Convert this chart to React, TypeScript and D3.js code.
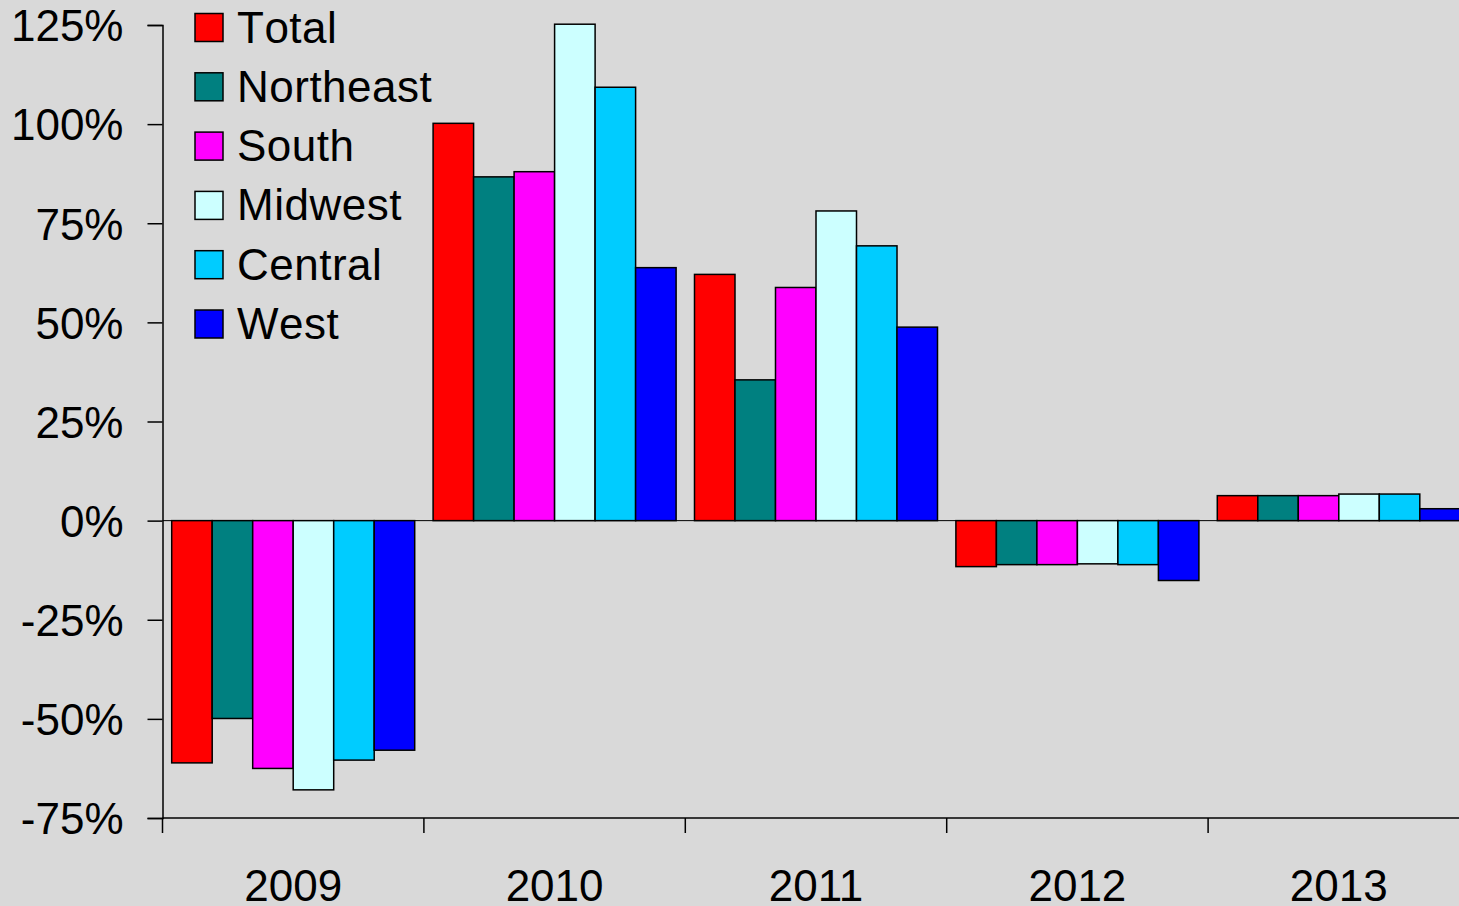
import * as React from "react";
import * as d3 from "d3";

const years: string[] = ["2009", "2010", "2011", "2012", "2013"];
const seriesNames: string[] = ["Total", "Northeast", "South", "Midwest", "Central", "West"];
const seriesColors: string[] = ["#ff0000", "#008080", "#ff00ff", "#ccffff", "#00ccff", "#0000ff"];

const total: number[] = [-61.1, 100.2, 62.1, -11.6, 6.3];
const northeast: number[] = [-49.9, 86.7, 35.5, -11.1, 6.3];
const south: number[] = [-62.5, 88.0, 58.8, -11.1, 6.3];
const midwest: number[] = [-67.9, 125.2, 78.1, -10.9, 6.7];
const central: number[] = [-60.4, 109.3, 69.3, -11.1, 6.7];
const west: number[] = [-57.9, 63.8, 48.8, -15.1, 3.0];

const yTicks: number[] = [125, 100, 75, 50, 25, 0, -25, -50, -75];

const W: number = 1459;
const H: number = 906;
const font: string = "'Liberation Sans', Arial, sans-serif";

interface Bar {
    year: string;
    series: string;
    color: string;
    value: number;
}

const App = (): JSX.Element => {
    const ref = React.useRef<SVGSVGElement>(null);

    React.useEffect(() => {
        const values: number[][] = [total, northeast, south, midwest, central, west];
        const bars: Bar[] = [];
        years.forEach((year: string, i: number) => {
            seriesNames.forEach((name: string, j: number) => {
                bars.push({ year, series: name, color: seriesColors[j], value: values[j][i] });
            });
        });

        const svg = d3.select(ref.current);
        svg.selectAll("*").remove();

        const left: number = 162.5;
        const step: number = 261.4;
        const x0 = d3.scaleBand<string>().domain(years).range([left, left + step * years.length]);
        const x1 = d3.scaleBand<string>().domain(seriesNames).range([0, x0.bandwidth()]).paddingOuter(0.227);
        const y = d3.scaleLinear().domain([-75, 125]).range([818, 25]);

        svg.append("rect").attr("width", W).attr("height", H).attr("fill", "#d9d9d9");

        // zero line
        svg.append("line")
            .attr("x1", left).attr("x2", left + step * years.length)
            .attr("y1", y(0)).attr("y2", y(0))
            .attr("stroke", "#000").attr("stroke-width", 1);

        svg.append("g").selectAll("rect")
            .data(bars).enter().append("rect")
            .attr("x", (d: Bar) => (x0(d.year) as number) + (x1(d.series) as number))
            .attr("width", x1.bandwidth())
            .attr("y", (d: Bar) => y(Math.max(0, d.value)))
            .attr("height", (d: Bar) => Math.abs(y(d.value) - y(0)))
            .attr("fill", (d: Bar) => d.color)
            .attr("stroke", "#000")
            .attr("stroke-width", 1.5);

        // y axis
        const yAxis = d3.axisLeft(y).tickValues(yTicks).tickSize(15).tickPadding(24)
            .tickFormat((d: d3.NumberValue) => `${d}%`);
        const yG = svg.append("g").attr("transform", `translate(${left},0)`).call(yAxis);
        yG.select(".domain").attr("stroke", "#000").attr("stroke-width", 1.5);
        yG.selectAll(".tick line").attr("stroke", "#000").attr("stroke-width", 1.5);
        yG.selectAll(".tick text")
            .attr("font-family", font).attr("font-size", 44).attr("fill", "#000")
            .attr("dy", "0.36em");

        // x axis
        svg.append("line")
            .attr("x1", left).attr("x2", left + step * years.length)
            .attr("y1", 818).attr("y2", 818)
            .attr("stroke", "#000").attr("stroke-width", 1.5);
        const xTicks: number[] = d3.range(years.length + 1).map((i: number) => left + step * i);
        svg.append("g").selectAll("line")
            .data(xTicks).enter().append("line")
            .attr("x1", (d: number) => d).attr("x2", (d: number) => d)
            .attr("y1", 818).attr("y2", 833)
            .attr("stroke", "#000").attr("stroke-width", 1.5);
        svg.append("g").selectAll("text")
            .data(years).enter().append("text")
            .attr("x", (d: string) => (x0(d) as number) + x0.bandwidth() / 2)
            .attr("y", 901)
            .attr("text-anchor", "middle")
            .attr("font-family", font).attr("font-size", 44)
            .text((d: string) => d);

        // legend
        const legend = svg.append("g").selectAll("g")
            .data(seriesNames).enter().append("g")
            .attr("transform", (d: string, i: number) => `translate(195,${13.5 + i * 59.3})`);
        legend.append("rect")
            .attr("width", 28).attr("height", 28)
            .attr("fill", (d: string, i: number) => seriesColors[i])
            .attr("stroke", "#000").attr("stroke-width", 1.5);
        legend.append("text")
            .attr("x", 42).attr("y", 29)
            .attr("font-family", font).attr("font-size", 44)
            .attr("letter-spacing", 0.5)
            .style("font-kerning", "none")
            .text((d: string) => d);
    }, []);

    return <svg ref={ref} width={W} height={H}
        style={{ position: "absolute", left: 0, top: 0, display: "block" }} />;
};

export default App;
